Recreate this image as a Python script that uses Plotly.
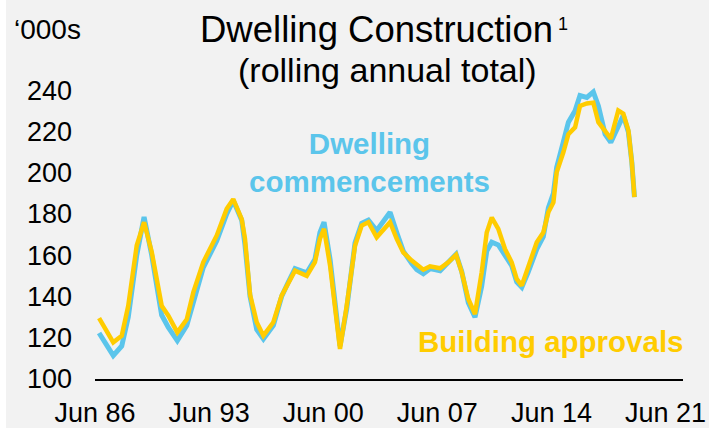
import plotly.graph_objects as go

# Decimal-year positions of readings
years = [1986.75, 1987.62, 1988.14, 1988.54, 1989.06, 1989.51, 1989.98, 1990.59, 1991.0, 1991.55,
         1992.13, 1992.53, 1993.14, 1993.97, 1994.58, 1994.98, 1995.5, 1995.7, 1996.01, 1996.42,
         1996.83, 1997.44, 1997.95, 1998.36, 1998.77, 1999.49, 1999.99, 2000.3, 2000.55, 2000.92,
         2001.22, 2001.53, 2001.94, 2002.45, 2002.86, 2003.27, 2003.78, 2004.6, 2005.01, 2005.41,
         2005.93, 2006.24, 2006.64, 2007.05, 2007.67, 2008.17, 2008.65, 2009.0, 2009.4, 2009.81,
         2010.22, 2010.53, 2010.84, 2011.24, 2011.65, 2012.06, 2012.37, 2012.68, 2013.08, 2013.6,
         2014.0, 2014.31, 2014.62, 2014.82, 2015.23, 2015.54, 2015.95, 2016.25, 2016.67, 2017.07,
         2017.38, 2017.79, 2018.14, 2018.6, 2018.91, 2019.22, 2019.43, 2019.59]

approvals = [129.5, 117.8, 121.0, 135.5, 164.7, 176.0, 161.6, 135.5, 130.7, 122.6,
             129.0, 142.0, 156.6, 169.6, 182.5, 187.2, 177.5, 168.0, 141.0, 127.5,
             121.0, 127.5, 140.4, 146.8, 152.5, 150.0, 156.6, 168.0, 172.8, 155.0,
             135.5, 114.6, 135.5, 164.6, 174.4, 176.0, 168.7, 176.0, 168.0, 161.4,
             157.4, 155.3, 153.0, 154.6, 153.7, 156.6, 160.2, 151.7, 138.8, 131.5,
             151.7, 171.0, 178.3, 172.8, 163.0, 156.6, 148.5, 145.3, 155.0, 166.3,
             171.0, 180.8, 185.6, 200.2, 209.9, 218.7, 222.0, 232.4, 233.6, 234.0,
             224.5, 220.5, 216.5, 230.2, 228.6, 220.5, 205.2, 188.2]

commencements = [122.3, 111.3, 116.0, 130.0, 160.0, 178.5, 160.0, 131.0, 125.0, 118.6,
                  126.0, 137.0, 154.0, 167.0, 180.0, 186.5, 177.0, 165.0, 140.0, 124.0,
                  119.4, 126.0, 140.0, 147.0, 153.5, 151.5, 158.0, 171.0, 176.0, 158.0,
                  136.0, 116.0, 134.0, 166.0, 175.5, 177.0, 172.0, 180.8, 171.0, 162.0,
                  156.0, 153.0, 151.0, 153.5, 152.5, 157.0, 160.5, 152.0, 137.0, 130.0,
                  145.0, 162.0, 166.3, 165.0, 160.0, 155.0, 147.0, 144.5, 152.0, 163.0,
                  169.0, 183.0, 190.0, 202.6, 215.0, 224.5, 230.0, 237.4, 236.5, 239.2,
                  232.4, 218.7, 214.7, 222.0, 227.8, 219.7, 205.2, 188.2]

x_tick_vals = [1986.5, 1993.5, 2000.5, 2007.5, 2014.5, 2021.5]
x_tick_text = ["Jun 86", "Jun 93", "Jun 00", "Jun 07", "Jun 14", "Jun 21"]
y_tick_vals = [100, 120, 140, 160, 180, 200, 220, 240]

BLUE = "#5BC5EB"
YELLOW = "#FFCC00"
FONT = "Liberation Sans, Arial, sans-serif"

fig = go.Figure()
fig.add_trace(go.Scatter(x=years, y=commencements, mode="lines",
                         line=dict(color=BLUE, width=5), name="Dwelling commencements"))
fig.add_trace(go.Scatter(x=years, y=approvals, mode="lines",
                         line=dict(color=YELLOW, width=4.5), name="Building approvals"))

W, H = 709, 428
ML, MR, MT, MB = 95, 26, 49, 49
PW, PH = W - ML - MR, H - MT - MB


def px(xp):
    return (xp - ML) / PW


def py(yp):
    return (H - MB - yp) / PH


fig.update_layout(
    width=W, height=H,
    margin=dict(l=ML, r=MR, t=MT, b=MB, autoexpand=False),
    paper_bgcolor="#F2F2F2", plot_bgcolor="#F2F2F2",
    showlegend=False,
    font=dict(family=FONT, color="black", size=27),
    xaxis=dict(range=[1986.5, 2022.57], tickmode="array", tickvals=x_tick_vals,
               ticktext=x_tick_text, showgrid=False, zeroline=False,
               showline=True, linecolor="black", linewidth=1.5, automargin=False,
               ticks="", ticklabelstandoff=9, tickfont=dict(size=27)),
    yaxis=dict(range=[100, 260], tickmode="array", tickvals=y_tick_vals,
               showgrid=False, zeroline=False, showline=False, automargin=False,
               ticks="", ticklabelstandoff=22, tickfont=dict(size=27)),
    annotations=[
        dict(text="Dwelling Construction", xref="paper", yref="paper",
             x=px(376), y=py(29), xanchor="center", yanchor="middle",
             showarrow=False, font=dict(size=36.5, color="black")),
        dict(text="1", xref="paper", yref="paper",
             x=px(556), y=py(24), xanchor="left", yanchor="middle",
             showarrow=False, font=dict(size=18, color="black")),
        dict(text="(rolling annual total)", xref="paper", yref="paper",
             x=px(387), y=py(70), xanchor="center", yanchor="middle",
             showarrow=False, font=dict(size=34, color="black")),
        dict(text="\u2018000s", xref="paper", yref="paper",
             x=px(12), y=py(29), xanchor="left", yanchor="middle",
             showarrow=False, font=dict(size=28, color="black")),
        dict(text="<b>Dwelling</b><br><b>commencements</b>", xref="paper", yref="paper",
             x=px(369), y=py(162), xanchor="center", yanchor="middle", showarrow=False,
             font=dict(size=29.5, color=BLUE)),
        dict(text="<b>Building approvals</b>", xref="paper", yref="paper",
             x=px(551), y=py(341), xanchor="center", yanchor="middle", showarrow=False,
             font=dict(size=29.5, color=YELLOW)),
    ],
    shapes=[
        dict(type="rect", xref="paper", yref="paper",
             x0=-ML / PW, x1=(6 - ML) / PW, y0=-MB / PH, y1=1 + MT / PH,
             fillcolor="white", line=dict(width=0), layer="below"),
    ],
)

fig.write_html("out.html",
               config={"displayModeBar": False},
               post_script="document.body.style.margin='0';document.body.style.overflow='hidden';")
